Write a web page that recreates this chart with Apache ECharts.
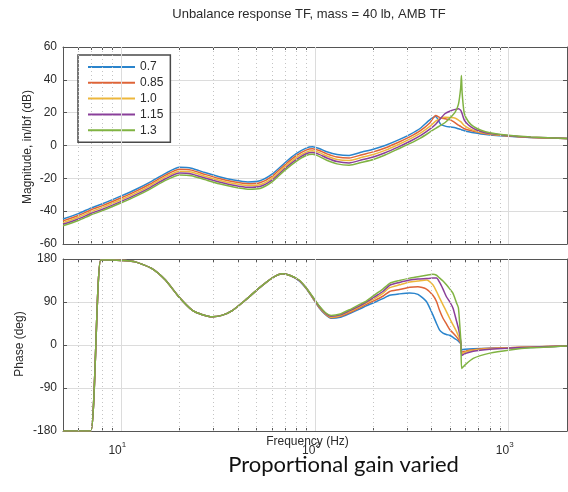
<!DOCTYPE html>
<html>
<head>
<meta charset="utf-8">
<script src="https://cdn.jsdelivr.net/npm/echarts@6/dist/echarts.min.js"></script>
<style>
  html, body { margin: 0; padding: 0; background: #fff; }
  #chart { width: 568px; height: 492px; }
</style>
</head>
<body>
<div id="chart"></div>
<script>
// Proportional gain values (legend entries)
const gains = ['0.7', '0.85', '1.0', '1.15', '1.3'];

// Magnitude response, in/lbf (dB) vs frequency (Hz)
const magFreq = [5, 6, 7, 8, 10, 12, 14, 17, 20, 23,
  27, 32, 38, 45, 52, 60, 70, 80, 90, 97,
  105, 115, 130, 150, 175, 200, 230, 270, 310, 350,
  390, 420, 445, 470, 500, 530, 550, 565, 570, 575,
  590, 620, 660, 720, 800, 1000, 1300, 2000];

const mag07 = [-44.8, -41.5, -38.0, -35.5, -30.7, -26.5, -22.5, -16.8, -13.3, -13.8,
  -16.5, -19.0, -21.0, -22.2, -21.5, -17.5, -10.5, -5.0, -1.6, -0.8,
  -1.8, -3.8, -5.5, -6.1, -4.0, -2.3, 0.0, 3.4, 6.8, 10.5,
  15.5, 17.6, 13.0, 11.8, 11.2, 10.8, 10.2, 9.8, 9.6, 9.4,
  9.0, 8.4, 7.7, 7.0, 6.4, 5.6, 4.9, 4.3];

const mag085 = [-45.9, -42.6, -39.1, -36.6, -31.8, -27.6, -23.6, -17.9, -14.5, -15.0,
  -17.6, -20.1, -22.1, -23.3, -22.7, -18.8, -11.7, -6.2, -2.8, -2.0,
  -3.0, -5.1, -7.0, -7.6, -5.6, -3.9, -1.5, 2.0, 5.4, 9.0,
  13.5, 18.2, 16.8, 16.3, 15.6, 13.8, 12.4, 11.6, 11.3, 11.0,
  10.2, 9.4, 8.6, 7.6, 6.8, 5.8, 4.9, 4.3];

const mag10 = [-47.0, -43.7, -40.2, -37.7, -32.9, -28.7, -24.7, -19.0, -15.7, -16.2,
  -18.7, -21.2, -23.2, -24.4, -23.9, -20.0, -12.9, -7.4, -4.0, -3.2,
  -4.2, -6.4, -8.5, -9.1, -7.2, -5.5, -3.0, 0.6, 4.0, 7.5,
  11.5, 14.8, 16.6, 17.2, 17.0, 16.6, 15.5, 14.5, 14.1, 13.6,
  12.2, 10.6, 9.2, 7.9, 7.0, 5.9, 5.0, 4.3];

const mag115 = [-48.0, -44.8, -41.3, -38.8, -34.0, -29.8, -25.8, -20.1, -16.8, -17.3,
  -19.8, -22.2, -24.2, -25.5, -25.0, -21.1, -14.0, -8.6, -5.0, -4.3,
  -5.4, -7.6, -9.8, -10.6, -8.7, -7.0, -4.4, -0.8, 2.6, 6.0,
  9.8, 13.0, 16.5, 19.5, 21.0, 22.0, 22.4, 21.5, 20.5, 19.3,
  15.5, 12.5, 10.3, 8.5, 7.3, 6.0, 5.1, 4.3];

const mag13 = [-48.9, -45.7, -42.2, -39.7, -34.9, -30.7, -26.7, -21.1, -17.9, -18.4,
  -20.8, -23.3, -25.3, -26.6, -26.2, -22.2, -15.0, -9.6, -6.1, -5.4,
  -6.6, -9.0, -11.2, -12.0, -10.2, -8.5, -5.8, -2.0, 1.3, 4.5,
  8.0, 10.5, 12.2, 14.0, 17.0, 20.5, 25.0, 35.0, 42.6, 32.0,
  19.5, 14.5, 11.5, 9.3, 7.8, 6.2, 5.2, 4.3];

// Phase response (deg) vs frequency (Hz)
const phaseFreq = [5, 6, 6.96, 7.83, 9, 10, 11.8, 14.4, 16.9, 19.8,
  23.2, 26, 29.5, 33, 37.4, 44, 51.4, 60, 67.9, 75,
  82.9, 90, 97, 105, 113, 121, 135, 151, 170, 184,
  205, 224, 243, 273, 308, 340, 376, 406, 424, 440,
  458, 477, 497, 516, 538, 550, 562, 567, 572, 594,
  656, 800, 1016, 1300, 2000];

const ph07 = [-180, -180, -180, 178, 178, 177, 174, 160, 136, 101,
  73, 64, 59, 62, 72, 95, 119, 140, 149, 145,
  134, 118, 99, 78, 64, 56, 58, 66, 75, 82,
  90, 97, 104, 107, 109, 106, 91, 63, 45, 31,
  25, 22, 20, 16, 11, 8, 4, 2, -10, -9,
  -8, -7, -6, -5, -2];

const ph085 = [-180, -180, -180, 178, 178, 177, 174, 160, 136, 101,
  73, 64, 59, 62, 72, 95, 119, 140, 149, 145,
  135, 119, 100, 79, 65, 57, 60, 68, 78, 85,
  94, 102, 112, 116, 121, 122, 117, 104, 91, 72,
  56, 44, 32, 25, 17, 12, 6, 2, -15, -13,
  -10, -7, -5.5, -4, -2];

const ph10 = [-180, -180, -180, 178, 178, 177, 174, 160, 136, 101,
  73, 64, 59, 62, 72, 95, 119, 140, 149, 145,
  135, 119, 100, 80, 66, 58, 61, 70, 80, 88,
  98, 108, 120, 126, 132, 134, 136, 126, 112, 98,
  84, 70, 55, 42, 28, 19, 10, 3, -19, -15,
  -11, -8, -6, -4, -2];

const ph115 = [-180, -180, -180, 178, 178, 177, 174, 160, 136, 101,
  73, 64, 59, 62, 72, 95, 119, 140, 149, 145,
  135, 120, 101, 81, 67, 60, 63, 72, 82, 90,
  102, 112, 125, 131, 136, 138, 139, 140, 140, 131,
  117, 101, 90, 77, 50, 35, 15, 3, -22, -18,
  -13, -9, -6.5, -4.5, -2];

const ph13 = [-180, -180, -180, 178, 178, 177, 174, 160, 136, 101,
  73, 64, 59, 62, 72, 95, 119, 140, 149, 145,
  136, 120, 102, 82, 68, 62, 65, 74, 85, 92,
  106, 117, 129, 135, 140, 143, 146, 148, 146, 140,
  134, 126, 117, 108, 88, 78, 28, 3, -49, -42,
  -28, -17, -10.5, -6, -2];

// Minor log-grid positions (Hz)
const minorFreq = [6, 7, 8, 9, 20, 30, 40, 50, 60, 70, 80, 90,
  200, 300, 400, 500, 600, 700, 800, 900];
// Major decades (Hz)
const decadeFreq = [10, 100, 1000];

// Axis tick values
const magTicks = { min: -60, max: 60, step: 20 };
const phaseTicks = { min: -180, max: 180, step: 90 };

const magSeries = [mag07, mag085, mag10, mag115, mag13];
const phaseSeries = [ph07, ph085, ph10, ph115, ph13];
const colors = ['#2a84cc', '#de6438', '#edb73c', '#8a3f9a', '#80b342'];

const FONT = '"Liberation Sans", Arial, sans-serif';
const TEXT = '#2b2b2b';
const FRAME = '#555555';

function pairs(xs, ys) { return xs.map((x, i) => [x, ys[i]]); }

function decadeLabel(v) {
  const e = Math.round(Math.log10(v));
  if (Math.abs(v - Math.pow(10, e)) < 1e-6 * v) return '{b|10}{sup|' + e + '}';
  return '';
}

const tickValues = minorFreq.concat(decadeFreq).sort((a, b) => a - b);

function xAxisDef(grid, pos, labels) {
  return {
    type: 'log', logBase: 10, gridIndex: grid, position: pos, min: 5, max: 2000,
    axisLine: { show: true, onZero: false, lineStyle: { color: FRAME, width: 1 } },
    axisTick: { show: true, inside: true, length: 3, customValues: tickValues,
                lineStyle: { color: FRAME } },
    splitLine: { show: false },
    axisLabel: labels ? {
      show: true, margin: 10, showMinLabel: false, showMaxLabel: false,
      formatter: decadeLabel, padding: [0, 8, 0, 0],
      rich: {
        b: { fontSize: 12, fontFamily: FONT, color: TEXT, lineHeight: 16, verticalAlign: 'bottom' },
        sup: { fontSize: 8, fontFamily: FONT, color: TEXT, lineHeight: 10, verticalAlign: 'top' }
      }
    } : { show: false }
  };
}

function yAxisDef(grid, pos, t, labels) {
  return {
    type: 'value', gridIndex: grid, position: pos, min: t.min, max: t.max, interval: t.step,
    axisLine: { show: true, onZero: false, lineStyle: { color: FRAME, width: 1 } },
    axisTick: { show: true, inside: true, length: 4, lineStyle: { color: FRAME } },
    splitLine: { show: pos === 'left', lineStyle: { color: '#dcdcdc', width: 1 } },
    axisLabel: labels ? { show: true, margin: 6, fontSize: 12, fontFamily: FONT, color: TEXT } : { show: false }
  };
}

// Vertical log grid: dotted minor lines plus solid decade lines
function logGrid(xi, yi) {
  return {
    type: 'line', name: 'grid', xAxisIndex: xi, yAxisIndex: yi, data: [], z: 1,
    silent: true,
    markLine: {
      silent: true, symbol: ['none', 'none'], animation: false,
      label: { show: false },
      lineStyle: { color: '#c4c4c4', type: [1, 3], width: 1 },
      data: minorFreq.map(f => ({ xAxis: f })).concat(
        decadeFreq.map(f => ({ xAxis: f, lineStyle: { color: '#dcdcdc', type: 'solid', width: 1 } })))
    }
  };
}

const series = [logGrid(0, 0), logGrid(2, 2)];
gains.forEach((g, i) => {
  series.push({
    type: 'line', name: g, xAxisIndex: 0, yAxisIndex: 0, z: 3,
    data: pairs(magFreq, magSeries[i]), showSymbol: false, symbol: 'none',
    smooth: 0.2,
    lineStyle: { width: 1.5, color: colors[i] }, itemStyle: { color: colors[i] },
    animation: false
  });
});
gains.forEach((g, i) => {
  series.push({
    type: 'line', name: g, xAxisIndex: 2, yAxisIndex: 2, z: 3,
    data: pairs(phaseFreq, phaseSeries[i]), showSymbol: false, symbol: 'none',
    smooth: 0.2,
    lineStyle: { width: 1.5, color: colors[i] }, itemStyle: { color: colors[i] },
    animation: false
  });
});

const chart = echarts.init(document.getElementById('chart'));
chart.setOption({
  animation: false,
  backgroundColor: '#ffffff',
  grid: [
    { left: 63, right: 1, top: 47, height: 197 },
    { left: 63, right: 1, top: 259, height: 172 }
  ],
  xAxis: [
    xAxisDef(0, 'bottom', false),
    xAxisDef(0, 'top', false),
    xAxisDef(1, 'bottom', true),
    xAxisDef(1, 'top', false)
  ],
  yAxis: [
    yAxisDef(0, 'left', magTicks, true),
    yAxisDef(0, 'right', magTicks, false),
    yAxisDef(1, 'left', phaseTicks, true),
    yAxisDef(1, 'right', phaseTicks, false)
  ],
  legend: {
    data: gains, left: 78, top: 55, orient: 'vertical',
    padding: [5, 7, 5, 10], itemWidth: 47, itemHeight: 2, itemGap: 1.8,
    icon: 'rect', borderColor: '#4a4a4a', borderWidth: 1.5, backgroundColor: '#ffffff',
    textStyle: { fontSize: 12, lineHeight: 14, fontFamily: FONT, color: TEXT },
    selectedMode: false
  },
  graphic: [
    { type: 'text', x: 309, y: 14, silent: true,
      style: { text: 'Unbalance response TF, mass = 40 lb, AMB TF', font: '13px ' + FONT,
               fill: TEXT, textAlign: 'center', textVerticalAlign: 'middle' } },
    { type: 'text', x: 27.5, y: 147, rotation: Math.PI / 2, silent: true,
      style: { text: 'Magnitude, in/lbf (dB)', font: '12px ' + FONT,
               fill: TEXT, textAlign: 'center', textVerticalAlign: 'middle' } },
    { type: 'text', x: 20, y: 344, rotation: Math.PI / 2, silent: true,
      style: { text: 'Phase (deg)', font: '12px ' + FONT,
               fill: TEXT, textAlign: 'center', textVerticalAlign: 'middle' } },
    { type: 'text', x: 307.5, y: 442, silent: true,
      style: { text: 'Frequency (Hz)', font: '12px ' + FONT,
               fill: TEXT, textAlign: 'center', textVerticalAlign: 'middle' } },
    { type: 'text', x: 343.5, y: 465, silent: true,
      style: { text: 'Proportional gain varied', font: '22px Lato, "Open Sans", sans-serif',
               fill: '#111111', textAlign: 'center', textVerticalAlign: 'middle' } }
  ],
  series: series
});
</script>
</body>
</html>
